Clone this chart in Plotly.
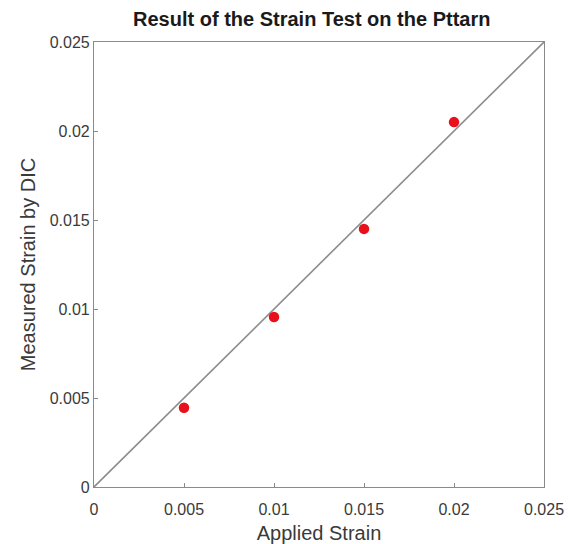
import plotly.graph_objects as go

applied_strain = [0.005, 0.010, 0.015, 0.020]
measured_strain = [0.00445, 0.00955, 0.0145, 0.0205]
ref_line_x = [0.0, 0.025]
ref_line_y = [0.0, 0.025]
tick_vals = [0, 0.005, 0.01, 0.015, 0.02, 0.025]
tick_text = ["0", "0.005", "0.01", "0.015", "0.02", "0.025"]

fig = go.Figure()
fig.add_trace(go.Scatter(x=ref_line_x, y=ref_line_y, mode="lines",
                         line=dict(color="#8c8c8c", width=1.6), showlegend=False))
fig.add_trace(go.Scatter(x=applied_strain, y=measured_strain, mode="markers",
                         marker=dict(color="#e8101a", size=10.5), showlegend=False))

font_family = "Liberation Sans, Arial, sans-serif"
axis_common = dict(
    range=[0, 0.025], tickvals=tick_vals, ticktext=tick_text,
    showgrid=False, zeroline=False, showline=True, mirror=True,
    linecolor="#8a8a8a", linewidth=1.2, automargin=False,
    ticks="inside", ticklen=4, tickcolor="#8a8a8a", tickwidth=1,
    tickfont=dict(family=font_family, size=16, color="#3a3a3a"),
)

fig.update_layout(
    width=572, height=544,
    margin=dict(l=94, r=28, t=42, b=57, autoexpand=False),
    plot_bgcolor="white", paper_bgcolor="white",
    title=dict(text="<b>Result of the Strain Test on the Pttarn</b>",
               font=dict(family=font_family, size=20, color="#1a1a1a"),
               x=0.545, xanchor="center", y=0.965, yanchor="middle"),
    xaxis=dict(**axis_common, ticklabelstandoff=8,
               title=dict(text="Applied Strain", standoff=8,
                          font=dict(family=font_family, size=20, color="#3a3a3a"))),
    yaxis=dict(**axis_common,
               title=dict(text="Measured Strain by DIC", standoff=8,
                          font=dict(family=font_family, size=20, color="#3a3a3a"))),
)

fig.write_html("out.html")
